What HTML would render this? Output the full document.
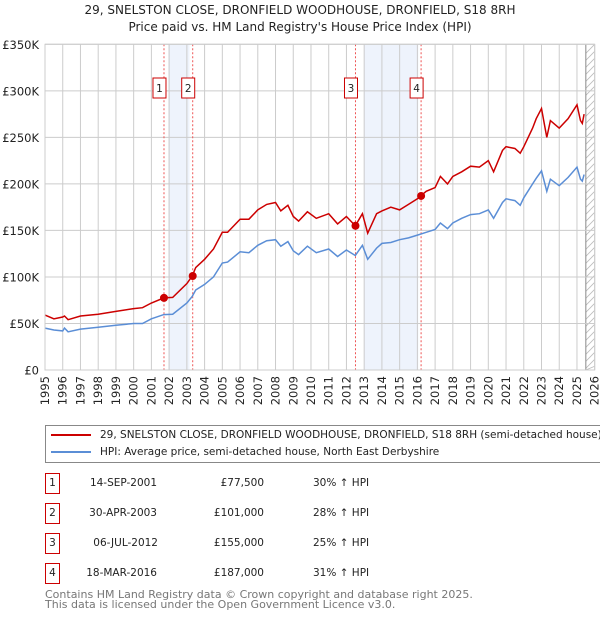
<!DOCTYPE html>
<html><head><meta charset="utf-8"><style>
body{margin:0;background:#fff;font-family:"Liberation Sans","DejaVu Sans",sans-serif;overflow:hidden;}
svg text{font-family:"DejaVu Sans","Liberation Sans",sans-serif;}
</style></head><body>
<svg id="chart" width="600" height="620" xmlns="http://www.w3.org/2000/svg" style="position:absolute;left:0;top:0"></svg>
<script>
const hpiYears=[1995,1995.5,1996,1996.1,1996.3,1997,1998,1999,2000,2000.5,2001,2001.7,2002.2,2003,2003.3,2003.5,2004,2004.5,2005,2005.3,2006,2006.5,2007,2007.5,2008,2008.3,2008.7,2009,2009.3,2009.8,2010.3,2011,2011.5,2012,2012.5,2012.9,2013.2,2013.7,2014,2014.5,2015,2015.5,2016,2016.5,2017,2017.3,2017.7,2018,2018.5,2019,2019.5,2020,2020.3,2020.8,2021,2021.5,2021.8,2022,2022.5,2022.7,2023,2023.3,2023.5,2024,2024.5,2025,2025.2,2025.3,2025.4];
const hpiValues=[45,43,42,45,41,44,46,48,50,50,55,59.5,60,72,79,86,92,100,115,116,127,126,134,139,140,133,138,128,124,133,126,130,122,129,123,134,119,131,136,137,140,142,145,148,151,158,152,158,163,167,168,172,163,180,184,182,177,185,200,206,214,192,205,198,207,218,205,203,210];
const priceValues=[59,55,57,58,54,58,60,63,66,67,72,77.5,78,93,101,110,119,130,148,148,162,162,172,178,180,171,177,165,160,170,163,168,157,165,155,168,147,168,171,175,172,178,184,192,196,208,200,208,213,219,218,225,213,236,240,238,233,240,260,270,281,250,268,260,270,285,268,265,275];
const saleYears=[2001.71,2003.33,2012.51,2016.21];
const salePrices=[77.5,101,155,187];
const saleLabels=["1","2","3","4"];
const yTicks=[0,50,100,150,200,250,300,350];
const yTickLabels=["£0","£50K","£100K","£150K","£200K","£250K","£300K","£350K"];
const shadeRanges=[[2001.95,2003.15],[2013.0,2016.05]];

const svg=document.getElementById('chart');
const NS='http://www.w3.org/2000/svg';
const X0=45,X1=594.7,Y0=370,Y1=44.3;
const xs=y=>X0+(y-1995)/(2026-1995)*(X1-X0);
const ys=v=>Y0-v/350*(Y0-Y1);
function mk(t,a,p){const e=document.createElementNS(NS,t);for(const k in a)e.setAttribute(k,a[k]);(p||svg).appendChild(e);return e;}
function tx(s,a){const e=mk('text',a);e.textContent=s;return e;}

let t=tx('29, SNELSTON CLOSE, DRONFIELD WOODHOUSE, DRONFIELD, S18 8RH',{x:300,y:14,'text-anchor':'middle','font-size':12,fill:'#222'});

t=tx("Price paid vs. HM Land Registry's House Price Index (HPI)",{x:300,y:31,'text-anchor':'middle','font-size':12,fill:'#222'});


for(const r of shadeRanges){const e=mk('rect',{x:xs(r[0]),y:Y1,width:xs(r[1])-xs(r[0]),height:Y0-Y1,fill:'#eef3fc'});
}
const hx=xs(2025.5);
const hr=mk('rect',{x:hx,y:Y1,width:X1-hx,height:Y0-Y1,fill:'#fff'});

for(let yy=Y1;yy<Y0;yy+=7){mk('line',{x1:hx,y1:Math.min(yy+9,Y0),x2:X1,y2:yy,stroke:'#bbb','stroke-width':0.8});}
mk('line',{x1:hx,y1:Y1,x2:hx,y2:Y0,stroke:'#888','stroke-width':1});

for(let y=1995;y<=2026;y++){const e=mk('line',{x1:xs(y),y1:Y1,x2:xs(y),y2:Y0,stroke:'#ccc','stroke-width':1});

const l=tx(String(y),{x:0,y:0,'font-size':11.5,fill:'#222','text-anchor':'end',transform:`translate(${xs(y)+4},${Y0+6}) rotate(-90)`});
}
yTicks.forEach((v,i)=>{const e=mk('line',{x1:X0,y1:ys(v),x2:X1,y2:ys(v),stroke:'#ccc','stroke-width':1});

const l=tx(yTickLabels[i],{x:39,y:ys(v)+4.5,'text-anchor':'end','font-size':11.5,fill:'#222'});
});

saleYears.forEach((s,i)=>{const e=mk('line',{x1:xs(s),y1:Y1,x2:xs(s),y2:Y0,stroke:'#e55','stroke-width':1,'stroke-dasharray':'2,2'});
});

const pts=a=>hpiYears.map((y,i)=>xs(y).toFixed(1)+','+ys(a[i]).toFixed(1)).join(' ');
let p=mk('polyline',{points:pts(hpiValues),fill:'none',stroke:'#5b8ed6','stroke-width':1.5});

p=mk('polyline',{points:pts(priceValues),fill:'none',stroke:'#cc0000','stroke-width':1.5});


saleYears.forEach((s,i)=>{const c=mk('circle',{cx:xs(s),cy:ys(salePrices[i]),r:4,fill:'#cc0000'});

const bx=mk('rect',{x:xs(s)-11,y:78,width:13,height:20,fill:'#fff',stroke:'#cc0000','stroke-width':1});

tx(saleLabels[i],{x:xs(s)-4.5,y:92,'text-anchor':'middle','font-size':10.5,fill:'#222'});});
mk('rect',{x:X0,y:Y1,width:X1-X0,height:Y0-Y1,fill:'none',stroke:'#ccc'});
</script>
<div style="position:absolute;left:45px;top:425px;width:560px;height:36px;border:1px solid #888;font-size:10.5px;font-family:'DejaVu Sans','Liberation Sans',sans-serif;color:#222;">
 <div style="position:absolute;left:5px;top:3px;white-space:nowrap;"><span style="display:inline-block;width:40px;height:2px;background:#cc0000;vertical-align:middle;margin-right:9px"></span>29, SNELSTON CLOSE, DRONFIELD WOODHOUSE, DRONFIELD, S18 8RH (semi-detached house)</div>
 <div style="position:absolute;left:5px;top:20px;white-space:nowrap;"><span style="display:inline-block;width:40px;height:2px;background:#5b8ed6;vertical-align:middle;margin-right:9px"></span>HPI: Average price, semi-detached house, North East Derbyshire</div>
</div>
<div style="position:absolute;left:0;top:0;font-family:'DejaVu Sans','Liberation Sans',sans-serif;font-size:10.5px;color:#222;">
 <div style="position:absolute;top:473px;left:0;width:600px;height:20px;">
  <div style="position:absolute;left:45px;width:13px;height:19px;border:1px solid #cc0000;text-align:center;line-height:19px">1</div>
  <div style="position:absolute;left:57px;width:100px;text-align:right;line-height:20px">14-SEP-2001</div>
  <div style="position:absolute;left:164px;width:100px;text-align:right;line-height:20px">£77,500</div>
  <div style="position:absolute;left:313px;line-height:20px;white-space:nowrap">30% ↑ HPI</div></div>
 <div style="position:absolute;top:503px;left:0;width:600px;height:20px;">
  <div style="position:absolute;left:45px;width:13px;height:19px;border:1px solid #cc0000;text-align:center;line-height:19px">2</div>
  <div style="position:absolute;left:57px;width:100px;text-align:right;line-height:20px">30-APR-2003</div>
  <div style="position:absolute;left:164px;width:100px;text-align:right;line-height:20px">£101,000</div>
  <div style="position:absolute;left:313px;line-height:20px;white-space:nowrap">28% ↑ HPI</div></div>
 <div style="position:absolute;top:533px;left:0;width:600px;height:20px;">
  <div style="position:absolute;left:45px;width:13px;height:19px;border:1px solid #cc0000;text-align:center;line-height:19px">3</div>
  <div style="position:absolute;left:57px;width:101px;text-align:right;line-height:20px">06-JUL-2012</div>
  <div style="position:absolute;left:164px;width:100px;text-align:right;line-height:20px">£155,000</div>
  <div style="position:absolute;left:313px;line-height:20px;white-space:nowrap">25% ↑ HPI</div></div>
 <div style="position:absolute;top:563px;left:0;width:600px;height:20px;">
  <div style="position:absolute;left:45px;width:13px;height:19px;border:1px solid #cc0000;text-align:center;line-height:19px">4</div>
  <div style="position:absolute;left:57px;width:100px;text-align:right;line-height:20px">18-MAR-2016</div>
  <div style="position:absolute;left:164px;width:100px;text-align:right;line-height:20px">£187,000</div>
  <div style="position:absolute;left:313px;line-height:20px;white-space:nowrap">31% ↑ HPI</div></div>
</div>
<div style="position:absolute;left:45px;top:590px;font-family:'DejaVu Sans','Liberation Sans',sans-serif;font-size:11px;line-height:10px;color:#777;white-space:nowrap">Contains HM Land Registry data © Crown copyright and database right 2025.<br>This data is licensed under the Open Government Licence v3.0.</div>
</body></html>
